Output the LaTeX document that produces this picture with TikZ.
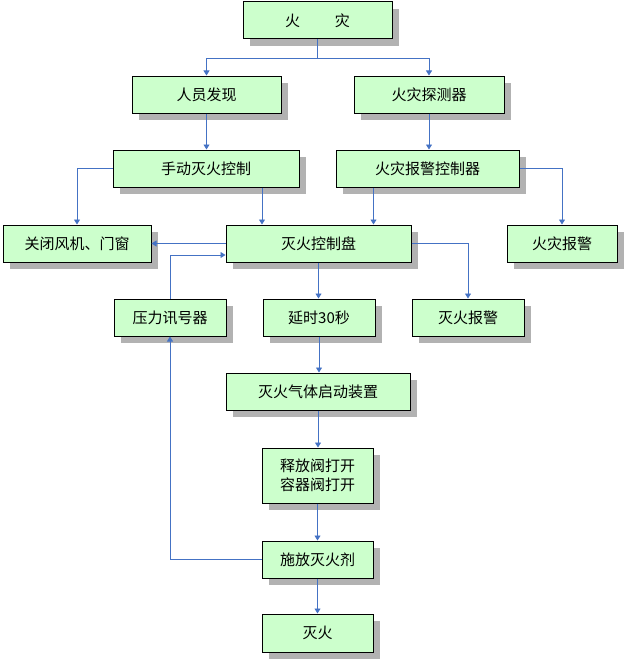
\documentclass[tikz,border=0pt]{standalone}
\usepackage{fontspec}
\setmainfont{Noto Sans CJK SC}
\usetikzlibrary{arrows.meta,shadows}
\definecolor{boxfill}{RGB}{204,255,204}
\definecolor{linkblue}{RGB}{68,114,196}
\definecolor{shadowgray}{RGB}{178,178,178}
\begin{document}
\begin{tikzpicture}[x=1pt,y=-1pt,
	box/.style={rectangle,draw=black,line width=1pt,fill=boxfill,inner sep=0pt,
		minimum height=37pt,align=center,font=\fontsize{15}{19}\selectfont,
		drop shadow={shadow xshift=7pt,shadow yshift=-7pt,fill=shadowgray,opacity=1}},
	link/.style={draw=linkblue,line width=0.9pt,-{Triangle[length=5pt,width=6pt]}}]
	\useasboundingbox (0,0) rectangle (624,661);
	\node[box,minimum width=149pt] (1)  at (317.5,20.5)  {火\hspace{35pt}灾};
	\node[box,minimum width=149pt] (2)  at (206.5,94.5)  {人员发现};
	\node[box,minimum width=150pt] (3)  at (429,94.5)    {火灾探测器};
	\node[box,minimum width=186pt] (4)  at (206,168.5)   {手动灭火控制};
	\node[box,minimum width=183pt] (5)  at (427.5,168.5) {火灾报警控制器};
	\node[box,minimum width=148pt] (6)  at (77,243.5)    {关闭风机、门窗};
	\node[box,minimum width=185pt] (7)  at (318.5,243.5) {灭火控制盘};
	\node[box,minimum width=110pt] (8)  at (562,243.5)   {火灾报警};
	\node[box,minimum width=112pt] (9)  at (170,317.5)   {压力讯号器};
	\node[box,minimum width=112pt] (10) at (319,317.5)   {延时30秒};
	\node[box,minimum width=112pt] (11) at (468,317.5)   {灭火报警};
	\node[box,minimum width=184pt] (12) at (318,391.5)   {灭火气体启动装置};
	\node[box,minimum width=111pt,minimum height=55pt] (13) at (317.5,475.5) {释放阀打开\\容器阀打开};
	\node[box,minimum width=111pt] (14) at (317.5,559.5) {施放灭火剂};
	\node[box,minimum width=111pt,minimum height=38pt] (15) at (317.5,633) {灭火};
	\draw[link] (1.south) -- ++(0,19) -| (2.north);
	\draw[link] (1.south) -- ++(0,19) -| (3.north);
	\draw[link] (2.south) -- (2.south |- 4.north);
	\draw[link] (3.south) -- (3.south |- 5.north);
	\draw[link] (4.west) -| (6.north);
	\draw[link] ([xshift=56pt]4.south) -- ([xshift=56pt]4.south |- 7.north);
	\draw[link] ([xshift=-54pt]5.south) -- ([xshift=-54pt]5.south |- 7.north);
	\draw[link] (5.east) -| (8.north);
	\draw[link] (7.west) -- (6.east);
	\draw[link] (9.north) |- ([yshift=-11.5pt]7.west);
	\draw[link] (7.south) -- (7.south |- 10.north);
	\draw[link] (7.east) -| (11.north);
	\draw[link] (10.south) -- (10.south |- 12.north);
	\draw[link] (12.south) -- (12.south |- 13.north);
	\draw[link] (13.south) -- (14.north);
	\draw[link] (14.south) -- (15.north);
	\draw[link] (14.west) -| (9.south);
\end{tikzpicture}
\end{document}
